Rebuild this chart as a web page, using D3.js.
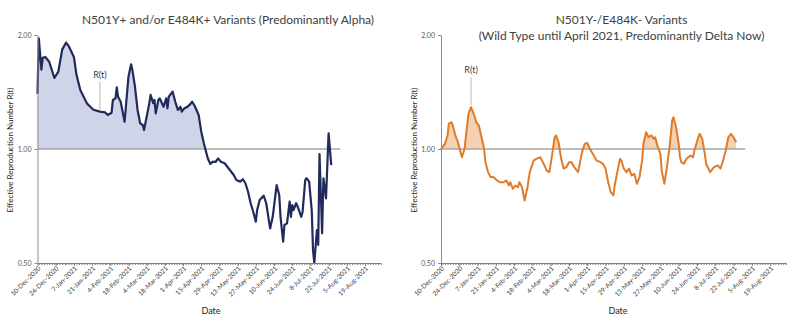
<!DOCTYPE html>
<html>
<head>
<meta charset="utf-8">
<script src="https://cdn.jsdelivr.net/npm/d3@7"></script>
<style>
  body { margin: 0; background: #fff; }
  svg text { font-family: Lato, "Open Sans", sans-serif; }
</style>
</head>
<body>
<svg id="chart" width="800" height="323"></svg>
<script>
// R(t) estimates, days counted from startDate
var startDate = "10-Dec-2020";
var endDate = "31-Aug-2021";
var refEndDate = "31-Jul-2021";

var tickLabels = ["10-Dec-2020", "24-Dec-2020", "7-Jan-2021", "21-Jan-2021", "4-Feb-2021",
  "18-Feb-2021", "4-Mar-2021", "18-Mar-2021", "1-Apr-2021", "15-Apr-2021", "29-Apr-2021",
  "13-May-2021", "27-May-2021", "10-Jun-2021", "24-Jun-2021", "8-Jul-2021", "22-Jul-2021",
  "5-Aug-2021", "19-Aug-2021"];
var yTicks = [0.5, 1, 2];

var alphaDay = [0, 1, 3, 4, 6, 9, 13, 16, 19, 22, 24, 28, 30, 33, 38, 43, 48, 52, 54, 57,
  58, 60, 61, 62, 64, 67, 68, 70, 72, 73, 75, 77, 79, 81, 82, 84, 86, 87, 89, 90,
  91, 93, 94, 97, 99, 100, 101, 103, 104, 106, 108, 110, 111, 113, 115, 117, 119, 121, 124, 126,
  128, 130, 131, 133, 135, 137, 139, 141, 144, 148, 151, 153, 156, 158, 160, 162, 164, 166, 168, 169,
  171, 174, 176, 178, 179, 181, 184, 186, 187, 189, 190, 192, 194, 195, 196, 197, 199, 200, 203, 204,
  206, 207, 209, 211, 212, 213, 215, 216, 217, 219, 220, 222, 224, 226];
var alphaR = [1.40, 1.96, 1.62, 1.74, 1.75, 1.70, 1.54, 1.60, 1.83, 1.91, 1.87, 1.75, 1.57, 1.43, 1.32, 1.27, 1.255, 1.25, 1.23, 1.247,
  1.347, 1.361, 1.455, 1.374, 1.333, 1.18, 1.293, 1.552, 1.674, 1.617, 1.461, 1.268, 1.169, 1.157, 1.122, 1.217, 1.32, 1.389, 1.322, 1.347,
  1.242, 1.347, 1.361, 1.293, 1.361, 1.281, 1.374, 1.403, 1.417, 1.333, 1.268, 1.293, 1.255, 1.281, 1.29, 1.307, 1.333, 1.299, 1.23, 1.111,
  1.035, 0.974, 0.945, 0.913, 0.926, 0.924, 0.945, 0.926, 0.917, 0.88, 0.854, 0.828, 0.82, 0.832, 0.812, 0.771, 0.719, 0.683, 0.643, 0.69,
  0.733, 0.753, 0.719, 0.649, 0.617, 0.662, 0.803, 0.756, 0.662, 0.569, 0.63, 0.636, 0.726, 0.662, 0.711, 0.69, 0.719, 0.707, 0.662, 0.683,
  0.828, 0.837, 0.82, 0.69, 0.541, 0.50, 0.611, 0.558, 0.97, 0.599, 0.837, 0.741, 1.10, 0.907];

var wildDay = [0, 3, 5, 6, 8, 9, 11, 13, 15, 16, 18, 20, 21, 23, 24, 26, 27, 29, 31, 33,
  34, 36, 38, 40, 43, 45, 48, 50, 52, 53, 55, 57, 59, 60, 62, 64, 66, 68, 71, 73,
  76, 78, 81, 83, 85, 87, 88, 90, 92, 94, 96, 98, 100, 102, 105, 106, 108, 110, 112, 114,
  117, 119, 122, 124, 126, 128, 130, 132, 133, 135, 137, 138, 140, 142, 144, 146, 148, 150, 152, 154,
  155, 157, 159, 161, 163, 164, 166, 168, 169, 171, 173, 175, 177, 178, 180, 182, 183, 184, 186, 188,
  191, 193, 194, 197, 198, 200, 202, 203, 206, 209, 212, 214, 216, 218, 220, 222, 224, 226];
var wildR = [1.0, 1.032, 1.086, 1.166, 1.177, 1.153, 1.086, 1.042, 0.981, 0.951, 1.0, 1.153, 1.238, 1.29, 1.264, 1.213, 1.177, 1.153, 1.074, 1.0,
  0.923, 0.869, 0.843, 0.843, 0.826, 0.817, 0.817, 0.826, 0.801, 0.817, 0.785, 0.801, 0.793, 0.817, 0.793, 0.731, 0.785, 0.869, 0.933, 0.942,
  0.951, 0.923, 0.877, 0.869, 0.961, 1.074, 1.086, 1.042, 0.942, 0.887, 0.895, 0.923, 0.923, 0.895, 0.869, 0.905, 0.981, 1.032, 1.038, 1.0,
  0.961, 0.933, 0.923, 0.914, 0.887, 0.817, 0.769, 0.754, 0.801, 0.869, 0.942, 0.933, 0.887, 0.869, 0.887, 0.851, 0.86, 0.809, 0.843, 0.933,
  1.032, 1.107, 1.074, 1.086, 1.064, 1.074, 1.011, 0.971, 0.877, 0.809, 0.895, 1.011, 1.189, 1.213, 1.141, 1.032, 0.951, 0.923, 0.914, 0.942,
  0.961, 0.951, 0.991, 1.074, 1.097, 1.064, 0.971, 0.914, 0.869, 0.895, 0.905, 0.887, 0.933, 0.991, 1.074, 1.097, 1.074, 1.042];

var parseDate = d3.timeParse("%d-%b-%Y");
var start = parseDate(startDate);
var svg = d3.select("#chart");

function drawPanel(p) {
  var g = svg.append("g");
  var x = d3.scaleTime()
    .domain([start, parseDate(endDate)])
    .range([p.left, p.right]);
  var y = d3.scaleLog().base(2)
    .domain([0.5, 2])
    .range([263, 35]);

  var pts = p.days.map(function(d, i) {
    return { date: d3.timeDay.offset(start, d), r: p.values[i] };
  });

  // shade the stretch above R = 1
  var area = d3.area()
    .x(d => x(d.date))
    .y0(y(1))
    .y1(d => y(Math.max(d.r, 1)));
  g.append("path").datum(pts)
    .attr("d", area)
    .attr("fill", p.fill);

  // reference line at 1.00
  g.append("line")
    .attr("x1", p.left).attr("x2", x(parseDate(refEndDate)))
    .attr("y1", y(1)).attr("y2", y(1))
    .attr("stroke", "#a6a6a6").attr("stroke-width", 1.5);

  var line = d3.line()
    .x(d => x(d.date))
    .y(d => y(d.r));
  g.append("path").datum(pts)
    .attr("d", line)
    .attr("fill", "none")
    .attr("stroke", p.color)
    .attr("stroke-width", p.width)
    .attr("stroke-linejoin", "round");

  // y axis
  var yAxis = g.append("g")
    .attr("transform", `translate(${p.left},0)`)
    .call(d3.axisLeft(y).tickValues(yTicks).tickFormat(d3.format(".2f")).tickSize(3).tickSizeOuter(0));
  yAxis.select(".domain").attr("stroke", "#8c8c8c");
  yAxis.selectAll(".tick line").attr("stroke", "#8c8c8c");
  yAxis.selectAll("text").attr("fill", "#595959").style("font-size", "7px");

  // x axis: minor ticks every 2 days, labelled ticks every 2 weeks
  var xMinor = g.append("g")
    .attr("transform", "translate(0,263)")
    .call(d3.axisBottom(x).ticks(d3.timeDay.every(2)).tickFormat("").tickSize(2).tickSizeOuter(0));
  xMinor.selectAll("line, path").attr("stroke", "#7f7f7f");

  var tickDates = tickLabels.map(parseDate);
  var xAxis = g.append("g")
    .attr("transform", "translate(0,263)")
    .call(d3.axisBottom(x).tickValues(tickDates).tickFormat((d, i) => tickLabels[i]).tickSize(3).tickSizeOuter(0));
  xAxis.select(".domain").attr("stroke", "#7f7f7f");
  xAxis.selectAll(".tick line").attr("stroke", "#7f7f7f");
  xAxis.selectAll("text")
    .attr("x", -2).attr("y", 4).attr("dy", "0.35em")
    .attr("transform", "rotate(-45)")
    .style("text-anchor", "end")
    .style("font-size", "6.5px")
    .attr("fill", "#404040");

  // titles
  p.title.forEach(function(t, i) {
    g.append("text")
      .attr("x", p.titleX).attr("y", 24 + i * 15.5)
      .attr("text-anchor", "middle")
      .style("font-size", "12px")
      .attr("fill", "#404040")
      .text(t);
  });

  g.append("text")
    .attr("transform", `translate(${p.labelX},150) rotate(-90)`)
    .attr("text-anchor", "middle")
    .style("font-size", "8px")
    .attr("fill", "#262626")
    .text("Effective Reproduction Number R(t)");

  g.append("text")
    .attr("x", p.dateX).attr("y", 314)
    .attr("text-anchor", "middle")
    .style("font-size", "9px")
    .attr("fill", "#262626")
    .text("Date");

  // R(t) callout
  var a = pts[p.callout];
  var ax = x(a.date), ay = y(a.r);
  g.append("line")
    .attr("x1", ax).attr("x2", ax)
    .attr("y1", ay - 2).attr("y2", ay - 30)
    .attr("stroke", "#a6a6a6").attr("stroke-width", 0.8);
  g.append("text")
    .attr("x", ax).attr("y", ay - 34)
    .attr("text-anchor", "middle")
    .style("font-size", "9px")
    .attr("fill", "#404040")
    .text("R(t)");
}

drawPanel({
  left: 37.5, right: 380.6,
  days: alphaDay, values: alphaR,
  color: "#1f2b5b", fill: "#d0d4e8", width: 2.2,
  title: ["N501Y+ and/or E484K+ Variants (Predominantly Alpha)"],
  titleX: 228, dateX: 211, labelX: 13,
  callout: alphaDay.indexOf(48)
});

drawPanel({
  left: 441, right: 785.8,
  days: wildDay, values: wildR,
  color: "#e07b2a", fill: "#f4d1b1", width: 2,
  title: ["N501Y-/E484K- Variants", "(Wild Type until April 2021, Predominantly Delta Now)"],
  titleX: 621.5, dateX: 618, labelX: 417,
  callout: wildDay.indexOf(23)
});
</script>
</body>
</html>
